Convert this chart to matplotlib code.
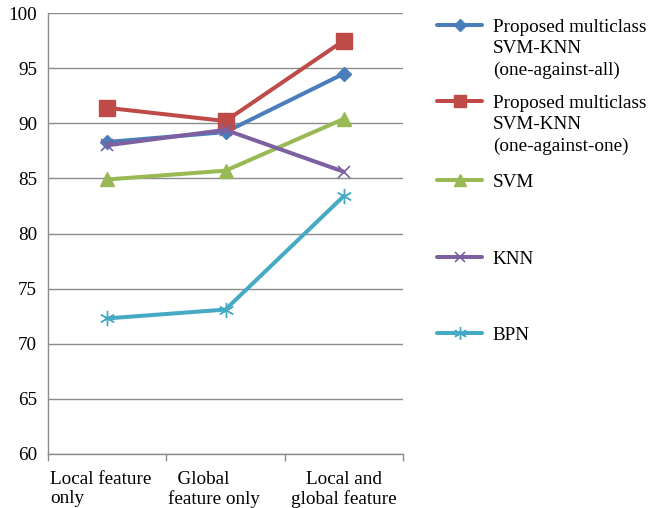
import matplotlib
matplotlib.use("Agg")
import matplotlib.pyplot as plt
from matplotlib.transforms import ScaledTranslation

plt.rcParams["font.family"] = ["Liberation Serif", "DejaVu Serif"]

categories = ["Local feature\nonly", "  Global\nfeature only", "Local and\nglobal feature"]
series_names = [
    "Proposed multiclass\nSVM-KNN\n(one-against-all)",
    "Proposed multiclass\nSVM-KNN\n(one-against-one)",
    "SVM",
    "KNN",
    "BPN",
]
ova_values = [88.3, 89.2, 94.5]
ovo_values = [91.4, 90.2, 97.5]
svm_values = [84.9, 85.7, 90.4]
knn_values = [88.0, 89.4, 85.6]
bpn_values = [72.3, 73.1, 83.4]
y_ticks = [60, 65, 70, 75, 80, 85, 90, 95, 100]

all_values = [ova_values, ovo_values, svm_values, knn_values, bpn_values]
colors = ["#4A7EBB", "#BE4B48", "#98B954", "#7D60A0", "#46AAC5"]
markers = ["D", "s", "^", "x", (6, 2, 0)]
msizes = [7.5, 11, 9.5, 9, 11]
medge = [1.0, 1.0, 1.0, 1.2, 1.0]

FS = 13.75
GRID = "#8C8C8C"

fig = plt.figure(figsize=(6.51, 5.08), dpi=100)
ax = fig.add_axes([48 / 651, 1 - 454 / 508, (403 - 48) / 651, (454 - 13) / 508])

x = list(range(len(categories)))
handles = []
for vals, c, m, ms, mew in zip(all_values, colors, markers, msizes, medge):
    (h,) = ax.plot(x, vals, color=c, lw=2.9, marker=m, markersize=ms,
                   markeredgewidth=mew, markeredgecolor=c, markerfacecolor=c,
                   solid_capstyle="round", zorder=3)
    handles.append(h)

ax.set_xlim(-0.5, len(categories) - 0.5)
ax.set_ylim(60, 100)
ax.set_yticks(y_ticks)
ax.yaxis.grid(True, color=GRID, lw=1.0)
ax.set_axisbelow(True)
ax.tick_params(axis="y", length=0, pad=8, labelsize=FS)

ax.set_xticks(x)
ax.set_xticklabels(categories)
ax.set_xticks([i - 0.5 for i in range(len(categories) + 1)], minor=True)
ax.tick_params(axis="x", which="major", length=0, pad=12.5, labelsize=FS)
ax.tick_params(axis="x", which="minor", length=5, color=GRID, width=1.0)

# wrapped category labels: the first two are left-aligned blocks nudged left
label_shift_px = [-6, -12, 0]
for tick, dx in zip(ax.xaxis.get_major_ticks(), label_shift_px):
    lbl = tick.label1
    lbl.set_linespacing(1.15)
    if dx:
        lbl.set_multialignment("left")
        lbl.set_transform(lbl.get_transform() +
                          ScaledTranslation(dx / 100, 0, fig.dpi_scale_trans))

for side in ["top", "right"]:
    ax.spines[side].set_visible(False)
for side in ["left", "bottom"]:
    ax.spines[side].set_color(GRID)
    ax.spines[side].set_linewidth(1.0)

# one legend per series so every entry sits at its own height;
# wrapped names continue below the first line
entry_y = [1 - 27 / 508, 1 - 103 / 508, 1 - 182 / 508, 1 - 259 / 508, 1 - 335 / 508]
line_step = 21.5 / 508
for h, name, yc in zip(handles, series_names, entry_y):
    first, *rest = name.split("\n")
    fig.legend([h], [first], loc="center left",
               bbox_to_anchor=(437 / 651, yc), frameon=False,
               fontsize=FS, handlelength=2.36, handletextpad=0.55,
               borderaxespad=0, borderpad=0, markerscale=0.85)
    for k, extra in enumerate(rest, start=1):
        fig.text(493 / 651, yc - k * line_step, extra, fontsize=FS,
                 va="center", ha="left")

fig.savefig("out.png", dpi=100)
